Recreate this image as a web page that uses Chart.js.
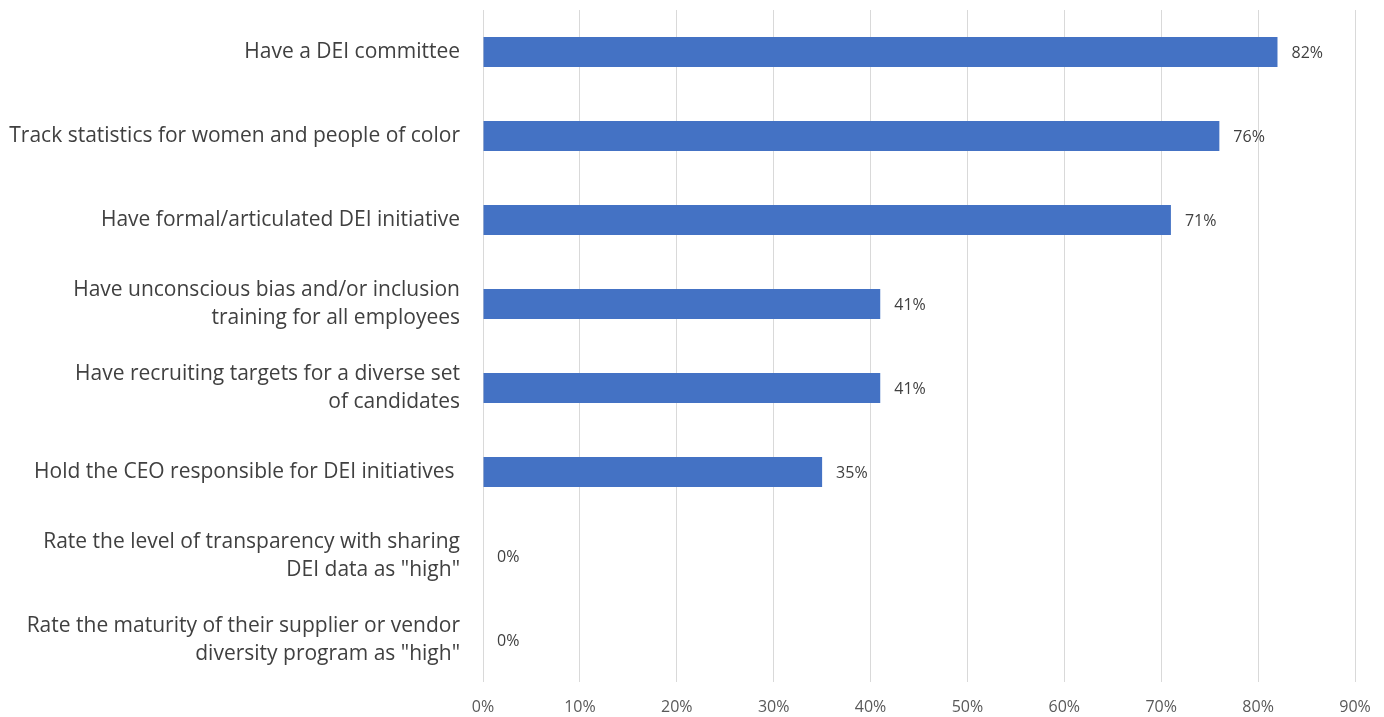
<!DOCTYPE html>
<html>
<head>
<meta charset="utf-8">
<script src="https://cdn.jsdelivr.net/npm/chart.js@4/dist/chart.umd.min.js"></script>
<style>
  html, body { margin: 0; padding: 0; background: #fff; }
  #wrap { width: 1384px; height: 717px; }
</style>
</head>
<body>
<div id="wrap"><canvas id="deiChart"></canvas></div>
<script>
// Datos del gráfico
const categories = [
    'Have a DEI committee',
    'Track statistics for women and people of color',
    'Have formal/articulated DEI initiative',
    ['Have unconscious bias and/or inclusion', 'training for all employees'],
    ['Have recruiting targets for a diverse set', 'of candidates'],
    'Hold the CEO responsible for DEI initiatives ',
    ['Rate the level of transparency with sharing', 'DEI data as "high"'],
    ['Rate the maturity of their supplier or vendor', 'diversity program as "high"']
];
const values = [82, 76, 71, 41, 41, 35, 0, 0];
const xTicks = [0, 10, 20, 30, 40, 50, 60, 70, 80, 90];

const FONT = '"Open Sans", "Noto Sans", sans-serif';

// Etiquetas de valor al final de cada barra
const valueLabels = {
    id: 'valueLabels',
    afterDatasetsDraw(chart) {
        const ctx = chart.ctx;
        const meta = chart.getDatasetMeta(0);
        ctx.save();
        ctx.font = '16px ' + FONT;
        ctx.fillStyle = '#404040';
        ctx.textAlign = 'left';
        ctx.textBaseline = 'middle';
        meta.data.forEach((bar, i) => {
            ctx.fillText(values[i] + '%', bar.x + 14, bar.y + 1);
        });
        ctx.restore();
    }
};

new Chart(document.getElementById('deiChart'), {
    type: 'bar',
    data: {
        labels: categories,
        datasets: [{
            data: values,
            backgroundColor: '#4472C4',
            borderWidth: 0,
            categoryPercentage: 1,
            barPercentage: 0.36
        }]
    },
    options: {
        indexAxis: 'y',
        responsive: true,
        maintainAspectRatio: false,
        animation: false,
        layout: { padding: { top: 10, right: 29, bottom: 0, left: 0 } },
        plugins: {
            legend: { display: false },
            tooltip: { enabled: false }
        },
        scales: {
            x: {
                min: 0,
                max: 90,
                afterBuildTicks: (scale) => {
                    scale.ticks = xTicks.map(v => ({ value: v }));
                },
                afterFit: (scale) => {
                    scale.height = 35;
                    scale.paddingLeft = 0;
                    scale.paddingRight = 0;
                },
                grid: { color: '#d9d9d9', drawTicks: false },
                border: { display: false },
                ticks: {
                    padding: 16,
                    color: '#595959',
                    font: { family: FONT, size: 16 },
                    callback: (v) => v + '%'
                }
            },
            y: {
                afterFit: (scale) => {
                    scale.width = 483;
                    scale.paddingTop = 0;
                    scale.paddingBottom = 0;
                },
                grid: { display: false, drawTicks: false },
                border: { display: false },
                ticks: {
                    padding: 23,
                    color: '#404040',
                    font: { family: FONT, size: 21, lineHeight: 1.33 }
                }
            }
        }
    },
    plugins: [valueLabels]
});
</script>
</body>
</html>
